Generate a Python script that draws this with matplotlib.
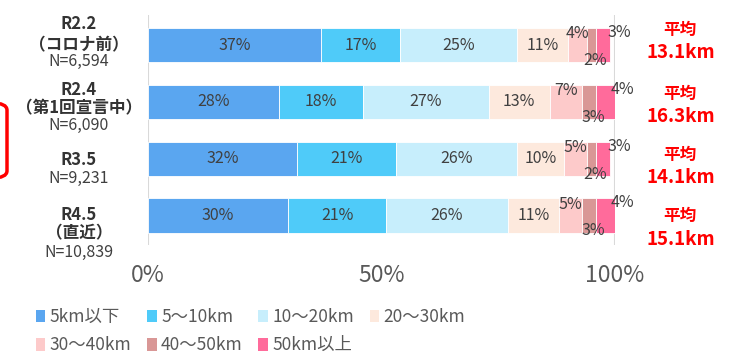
import matplotlib
matplotlib.use("Agg")
import matplotlib.pyplot as plt
from matplotlib.patches import Patch, FancyBboxPatch
import numpy as np

plt.rcParams['font.family'] = ['Noto Sans CJK JP', 'DejaVu Sans']

# ---------------- DATA ----------------
rows = ["R2.2", "R2.4", "R3.5", "R4.5"]
row_sub = ["（コロナ前）", "（第1回宣言中）", "", "（直近）"]
row_n = ["N=6,594", "N=6,090", "N=9,231", "N=10,839"]
averages = ["13.1km", "16.3km", "14.1km", "15.1km"]

categories = ["5km以下", "5～10km", "10～20km", "20～30km",
              "30～40km", "40～50km", "50km以上"]
values = np.array([
    [37, 17, 25, 11, 4, 2, 3],
    [28, 18, 27, 13, 7, 3, 4],
    [32, 21, 26, 10, 5, 2, 3],
    [30, 21, 26, 11, 5, 3, 4],
])
colors = ["#5AA6F0", "#4FCBF9", "#C7EEFC", "#FDE9DD",
          "#FDCACA", "#D99796", "#FF6B9B"]
# --------------------------------------

W, H = 752, 361
fig = plt.figure(figsize=(W / 100, H / 100), dpi=100)

def fx(px): return px / W
def fy(py): return 1 - py / H

ax = fig.add_axes([fx(148), fy(245), fx(615) - fx(148), (245 - 15) / H])

txt = "#404040"
ypos = np.arange(len(rows))
left = np.zeros(len(rows))
for j, cat in enumerate(categories):
    v = values[:, j]
    ax.barh(ypos, v, left=left, height=0.6, color=colors[j],
            edgecolor="white", linewidth=0.6, zorder=3)
    for i in range(len(rows)):
        cx = left[i] + v[i] / 2
        lab = f"{v[i]}%"
        if j <= 3:
            ax.text(cx, i, lab, ha="center", va="center", fontsize=11.5,
                    color=txt, zorder=4)
        elif j == 4:
            ax.text(cx, i - 0.2, lab, ha="center", va="center",
                    fontsize=11.5, color=txt, zorder=4)
        elif j == 5:
            ax.text(cx + 0.8, i + 0.27, lab, ha="center", va="center",
                    fontsize=11.5, color=txt, zorder=4)
        else:
            ax.text(cx + 3.5, i - 0.22, lab, ha="center", va="center",
                    fontsize=11.5, color=txt, zorder=4)
    left += v

ax.set_xlim(0, 100)
ax.set_ylim(3.52, -0.53)
ax.set_xticks([0, 50, 100])
ax.set_xticklabels(["0%", "50%", "100%"], fontsize=16.5, color="#595959")
ax.tick_params(axis="x", length=0, pad=14)
ax.set_yticks([])
for s in ax.spines.values():
    s.set_visible(False)
for xv in (0, 100):
    ax.axvline(xv, color="#D9D9D9", linewidth=1.5, zorder=1)

# row labels on the left
label_x = fx(79)
row_offsets = [
    [-21, 0, 16],
    [-11, 7, 24],
    [1.5, None, 19.5],
    [-0.5, 17.5, 36.5],
]
centers_px = [45, 101, 158.5, 215.5]
for i in range(len(rows)):
    o = row_offsets[i]
    c = centers_px[i]
    fig.text(label_x, fy(c + o[0]), rows[i], ha="center", va="center",
             fontsize=12, fontweight="bold", color="#333333")
    if row_sub[i]:
        fig.text(label_x, fy(c + o[1]), row_sub[i], ha="center",
                 va="center", fontsize=12, fontweight="bold",
                 color="#333333")
    fig.text(label_x, fy(c + o[2]), row_n[i], ha="center", va="center",
             fontsize=11.5, color="#404040")

# averages on the right
avg_offsets = [(-15, 8), (-7, 15), (-4, 19), (0, 24)]
for i in range(len(rows)):
    c = centers_px[i]
    a, b = avg_offsets[i]
    fig.text(fx(680), fy(c + a), "平均", ha="center", va="center",
             fontsize=12, fontweight="bold", color="#FF0000")
    fig.text(fx(681), fy(c + b), averages[i], ha="center", va="center",
             fontsize=13.5, fontweight="bold", color="#FF0000")

# red rounded frame cut off at the left edge
frame = FancyBboxPatch((fx(-40), fy(178)), fx(47), (178 - 103) / H,
                       boxstyle="round,pad=0,rounding_size=0.02",
                       transform=fig.transFigure, fill=False,
                       edgecolor="#FF0000", linewidth=2.5)
fig.patches.append(frame)

# legend (row-wise order)
handles = [Patch(facecolor=c, edgecolor="none") for c in colors]
order = [0, 4, 1, 5, 2, 6, 3]
leg = fig.legend([handles[k] for k in order], [categories[k] for k in order],
                 ncol=4, loc="upper left", bbox_to_anchor=(fx(29), fy(301)),
                 frameon=False, fontsize=12.5, handlelength=0.55,
                 handleheight=0.75, handletextpad=0.25, columnspacing=0.9,
                 labelspacing=0.6, labelcolor="#595959",
                 borderaxespad=0)

fig.savefig("out.png", dpi=100)
